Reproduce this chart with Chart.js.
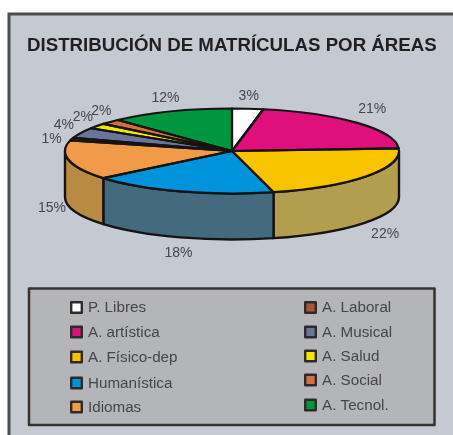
<!DOCTYPE html>
<html><head><meta charset="utf-8">
<style>html,body{margin:0;padding:0;background:#fff}canvas{display:block;filter:blur(0.45px)}</style>
<script src="https://cdn.jsdelivr.net/npm/chart.js@4"></script></head>
<body><canvas id="c" width="453" height="435"></canvas>
<script>
const categories = ['P. Libres','A. artística','A. Físico-dep','Humanística','Idiomas','A. Laboral','A. Musical','A. Salud','A. Social','A. Tecnol.'];
const values = [3,21,22,18,15,1,4,2,2,12];
const sliceColors = ['#ffffff','#df0f7c','#f8c400','#0093dc','#f19a48','#a8553a','#6a7699','#f7e600','#d2713c','#009640'];
const wallColors = ['#b3b3b3','#8f1050','#b39e50','#446a80','#b88a42','#6a3a28','#454d66','#a09400','#8a4a28','#006030'];
const labelNudgeX = [1,15,18,-2,-17,-20,-17,-14,-9,-5];
const labelNudgeY = [-13,-14,58,62,48,0,-8,-9,-11,-13];
const legendTextY = [307.5,332,357,383,407,307.5,332,356,380,405];
const PIE = {cx:232, cy:151, rx:167, ry:42.5, depth:46};
const INK = '#161412';

const pie3d = {
  id:'pie3d',
  beforeDraw(chart){
    const c = chart.ctx;
    c.save();
    c.fillStyle='#ffffff'; c.fillRect(0,0,453,435);
    c.fillStyle='#c5c9d2'; c.fillRect(9,14,444,421);
    c.strokeStyle='#4d4d4f'; c.lineWidth=3;
    c.beginPath(); c.moveTo(9,435); c.lineTo(9,14); c.lineTo(453,14); c.stroke();
    c.restore();
  },
  beforeDatasetsDraw(chart){
    const c = chart.ctx, P = PIE;
    const arcs = chart.getDatasetMeta(0).data;
    const R = arcs[0].getProps(['outerRadius'],true).outerRadius;
    // walls
    c.save();
    c.lineJoin='round'; c.lineWidth=2.4; c.strokeStyle=INK;
    arcs.forEach((el,i)=>{
      const {startAngle,endAngle} = el.getProps(['startAngle','endAngle'],true);
      const s = Math.max(startAngle,0), e = Math.min(endAngle,Math.PI);
      if(e<=s) return;
      c.beginPath();
      c.ellipse(P.cx,P.cy,P.rx,P.ry,0,s,e);
      c.ellipse(P.cx,P.cy+P.depth,P.rx,P.ry,0,e,s,true);
      c.closePath();
      c.fillStyle=wallColors[i]; c.fill(); c.stroke();
    });
    c.restore();
    // flatten the library's own arcs onto the ellipse
    const {x,y} = arcs[0].getProps(['x','y'],true);
    c.save();
    c.translate(P.cx,P.cy);
    c.scale(P.rx/R,P.ry/R);
    c.translate(-x,-y);
  },
  afterDatasetsDraw(chart){
    const c = chart.ctx, P = PIE;
    c.restore();
    const arcs = chart.getDatasetMeta(0).data;
    c.save();
    c.lineJoin='round'; c.lineWidth=2.2; c.strokeStyle=INK;
    arcs.forEach(el=>{
      const {startAngle,endAngle} = el.getProps(['startAngle','endAngle'],true);
      c.beginPath();
      c.moveTo(P.cx,P.cy);
      c.ellipse(P.cx,P.cy,P.rx,P.ry,0,startAngle,endAngle);
      c.closePath();
      c.stroke();
    });
    // percent labels
    c.font='14px "Liberation Sans"'; c.fillStyle='#46464a';
    c.textAlign='center'; c.textBaseline='middle';
    arcs.forEach((el,i)=>{
      const {startAngle,endAngle} = el.getProps(['startAngle','endAngle'],true);
      const m=(startAngle+endAngle)/2;
      c.fillText(values[i]+'%',P.cx+P.rx*Math.cos(m)+labelNudgeX[i],P.cy+P.ry*Math.sin(m)+labelNudgeY[i]);
    });
    // legend box
    c.fillStyle='#b4b5b9'; c.fillRect(29,288.5,405.5,136.5);
    c.strokeStyle='#353230'; c.lineWidth=2.5; c.strokeRect(29,288.5,405.5,136.5);
    c.textAlign='left';
    categories.forEach((name,i)=>{
      const right=i>=5, sx=right?305.2:71.2, tx=right?322:88, ty=legendTextY[i];
      c.fillStyle=sliceColors[i];
      c.fillRect(sx,ty-5.3,10.6,10.6);
      c.strokeStyle='#2e2a28'; c.lineWidth=2.4; c.strokeRect(sx,ty-5.3,10.6,10.6);
      c.fillStyle='#46464a';
      c.font='15.2px "Liberation Sans"';
      c.fillText(name,tx,ty+0.5);
    });
    c.restore();
  }
};

new Chart(document.getElementById('c'),{
  type:'pie',
  data:{labels:categories,datasets:[{data:values,backgroundColor:sliceColors,borderWidth:0}]},
  options:{
    responsive:false,animation:false,radius:150,
    layout:{padding:{left:27,right:0,top:0,bottom:0}},
    events:[],
    plugins:{
      legend:{display:false},tooltip:{enabled:false},
      title:{display:true,text:'DISTRIBUCIÓN DE MATRÍCULAS POR ÁREAS',align:'start',color:'#231f20',
        font:{family:'"Liberation Sans"',size:18.7,weight:'bold'},padding:{top:35,bottom:10}}
    }
  },
  plugins:[pie3d]
});
</script></body></html>
